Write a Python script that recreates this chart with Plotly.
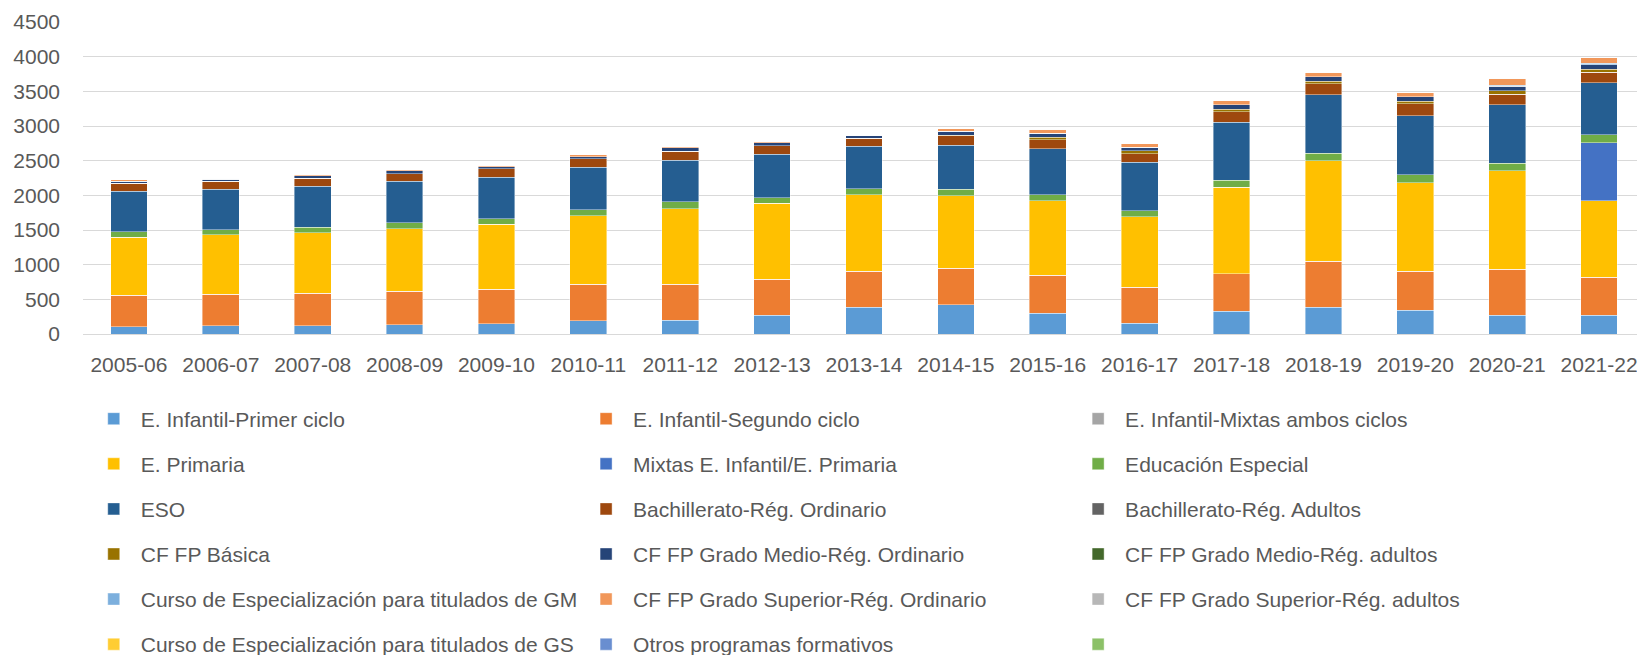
import plotly.graph_objects as go

years = ["2005-06", "2006-07", "2007-08", "2008-09", "2009-10", "2010-11", "2011-12",
         "2012-13", "2013-14", "2014-15", "2015-16", "2016-17", "2017-18", "2018-19",
         "2019-20", "2020-21", "2021-22"]

inf_primer = [105, 120, 120, 130, 149, 192, 201, 273, 389, 422, 302, 158, 331, 389, 341, 273, 273]
inf_segundo = [451, 451, 470, 489, 494, 523, 519, 519, 513, 523, 542, 518, 537, 657, 561, 658, 547]
inf_mixtas = [0] * 17
primaria = [840, 859, 873, 897, 940, 993, 1088, 1093, 1108, 1051, 1075, 1013, 1248, 1453, 1281, 1424, 1099]
mixtas_inf_pri = [0, 0, 0, 0, 0, 0, 0, 0, 0, 0, 0, 0, 0, 0, 0, 0, 839]
ed_especial = [77, 71, 77, 86, 77, 81, 96, 77, 82, 91, 86, 91, 105, 111, 115, 111, 115]
eso = [584, 589, 593, 603, 602, 615, 601, 629, 615, 634, 668, 697, 832, 844, 852, 844, 751]
bach_ord = [114, 110, 115, 109, 124, 125, 134, 125, 115, 140, 130, 124, 150, 155, 169, 147, 152]
bach_adultos = [0] * 17
fp_basica = [0, 0, 0, 0, 0, 0, 0, 0, 0, 9, 34, 39, 39, 38, 39, 48, 43]
gm_ord = [29, 33, 38, 38, 28, 29, 44, 44, 34, 53, 62, 57, 62, 63, 62, 71, 67]
gm_adultos = [0] * 17
curso_gm = [0, 0, 0, 0, 0, 0, 0, 0, 0, 0, 0, 0, 0, 0, 0, 14, 19]
gs_ord = [24, 15, 19, 15, 19, 24, 19, 19, 14, 34, 53, 44, 63, 63, 58, 100, 81]
gs_adultos = [0] * 17
curso_gs = [0] * 17
otros = [0] * 17
sin_nombre = [0] * 17

series = [
    ("E. Infantil-Primer ciclo", inf_primer, "#5B9BD5"),
    ("E. Infantil-Segundo ciclo", inf_segundo, "#ED7D31"),
    ("E. Infantil-Mixtas ambos ciclos", inf_mixtas, "#A5A5A5"),
    ("E. Primaria", primaria, "#FFC000"),
    ("Mixtas E. Infantil/E. Primaria", mixtas_inf_pri, "#4472C4"),
    ("Educación Especial", ed_especial, "#70AD47"),
    ("ESO", eso, "#255E91"),
    ("Bachillerato-Rég. Ordinario", bach_ord, "#9E480E"),
    ("Bachillerato-Rég. Adultos", bach_adultos, "#636363"),
    ("CF FP Básica", fp_basica, "#997300"),
    ("CF FP Grado Medio-Rég. Ordinario", gm_ord, "#264478"),
    ("CF FP Grado Medio-Rég. adultos", gm_adultos, "#43682B"),
    ("Curso de Especialización para titulados de GM", curso_gm, "#7CAFDD"),
    ("CF FP Grado Superior-Rég. Ordinario", gs_ord, "#F1975A"),
    ("CF FP Grado Superior-Rég. adultos", gs_adultos, "#B7B7B7"),
    ("Curso de Especialización para titulados de GS", curso_gs, "#FFCD33"),
    ("Otros programas formativos", otros, "#698ED0"),
    (" ", sin_nombre, "#8CC168"),
]

FONT = "Liberation Sans, Arial, sans-serif"
TXT = "#595959"

fig = go.Figure()
legend_ids = ["legend", "legend2", "legend3"]
for i, (name, vals, col) in enumerate(series):
    fig.add_trace(go.Bar(
        x=years, y=vals, name=name,
        marker=dict(color=col, line=dict(color="rgba(255,255,255,0.55)", width=0.75)),
        legend=legend_ids[i % 3], legendgroup=f"g{i}",
    ))

leg_common = dict(
    orientation="v", traceorder="grouped", tracegroupgap=14.8,
    font=dict(family=FONT, size=21, color=TXT), itemwidth=44,
    bgcolor="rgba(0,0,0,0)", yanchor="top", xanchor="left", valign="middle",
    xref="paper", yref="container",
    itemclick=False, itemdoubleclick=False,
)

LEG_Y = 0.3964

# The page body adds an 8px offset, so the figure is 8px smaller on each axis.
fig.update_layout(
    width=1637, height=647,
    margin=dict(l=75, r=0, t=14, b=321, autoexpand=False),
    paper_bgcolor="white", plot_bgcolor="white",
    barmode="stack", bargap=0.6,
    font=dict(family=FONT, size=21, color=TXT),
    xaxis=dict(
        type="category", showgrid=False, showline=True, linecolor="#D9D9D9", linewidth=1.3,
        ticks="", tickfont=dict(family=FONT, size=21, color=TXT), ticklabelstandoff=12,
        automargin=False,
    ),
    yaxis=dict(
        range=[0, 4500], dtick=500, showgrid=True, gridcolor="#D9D9D9", gridwidth=1.3,
        zeroline=False, showline=False, ticks="",
        tickfont=dict(family=FONT, size=21, color=TXT), ticklabelstandoff=22,
        automargin=False,
    ),
    legend=dict(x=0.0024, y=LEG_Y, **leg_common),
    legend2=dict(x=0.3176, y=LEG_Y, **leg_common),
    legend3=dict(x=0.6326, y=LEG_Y, **leg_common),
    showlegend=True,
)

fig.write_html("out.html")
